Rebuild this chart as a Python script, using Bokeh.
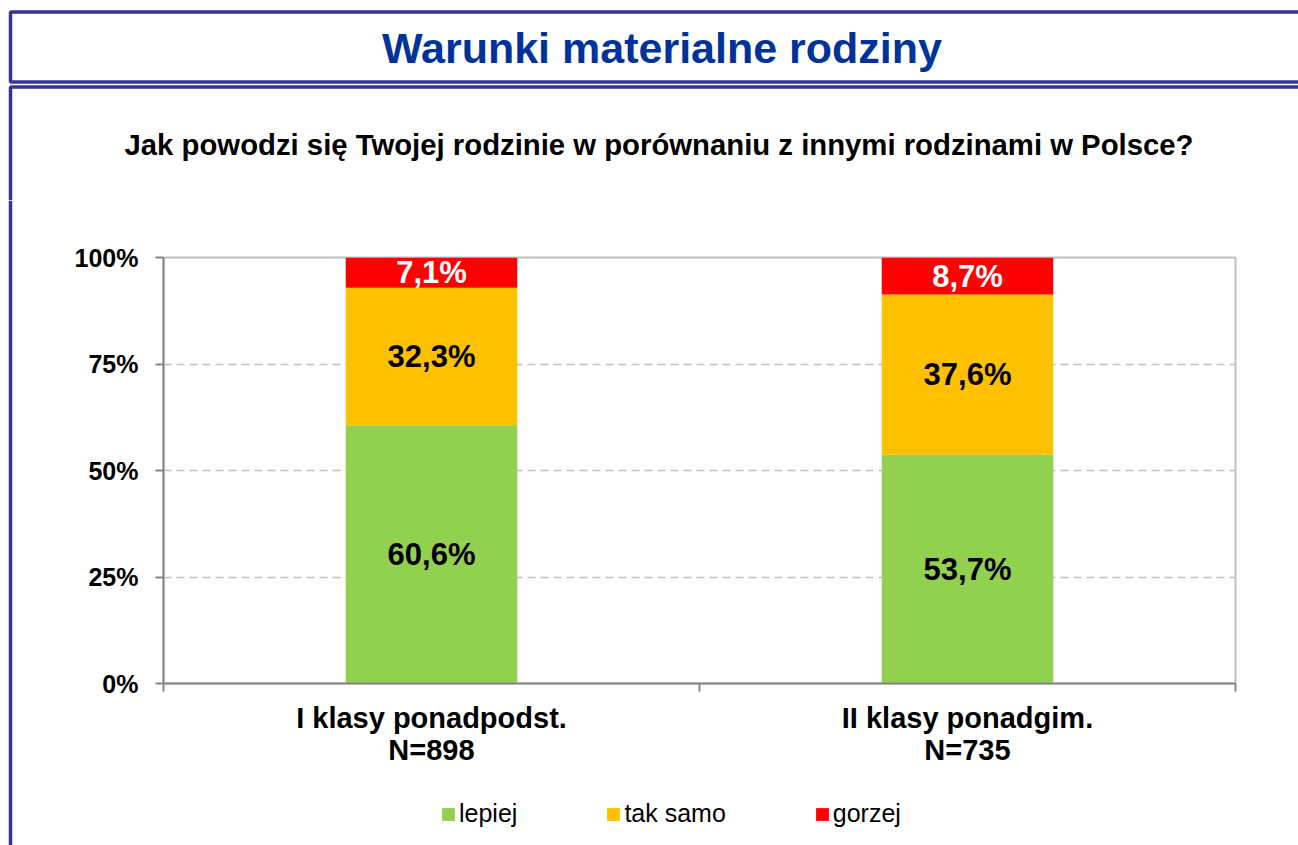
from bokeh.plotting import figure
from bokeh.layouts import column, row
from bokeh.models import (ColumnDataSource, FactorRange, Range1d, LinearAxis, CategoricalAxis,
                          FixedTicker, PrintfTickFormatter, Legend, LegendItem, BoxAnnotation,
                          Label, Grid, Span)
from bokeh.embed import file_html
from bokeh.resources import INLINE
from bokeh.core.properties import value

# ---------------- data ----------------
categories = ["I klasy ponadpodst.", "II klasy ponadgim."]
sample_sizes = ["N=898", "N=735"]
series_names = ["lepiej", "tak samo", "gorzej"]
lepiej = [60.6, 53.7]
tak_samo = [32.3, 37.6]
gorzej = [7.1, 8.7]
y_ticks = [0, 25, 50, 75, 100]
title_text = "Warunki materialne rodziny"
question_text = "Jak powodzi się Twojej rodzinie w porównaniu z innymi rodzinami w Polsce?"

# ---------------- style ----------------
FONT = "Liberation Sans"
colors = ["#92D050", "#FFC000", "#FF0000"]
label_colors = ["black", "black", "white"]
AXIS = "#868686"
GRID = "#C0C0C0"
BORDER = "#333399"
TITLE_COLOR = "#003399"

PAGE_W, PAGE_H = 1298, 845
HEADER_H = 200          # header figure: title box + question
STRIP_W = 20            # left strip carrying the panel's left border
LEGEND_H = 70
MAIN_H = PAGE_H - HEADER_H - LEGEND_H
MAIN_W = PAGE_W - STRIP_W


def bare(fig):
    fig.outline_line_color = None
    fig.background_fill_color = "white"
    fig.border_fill_color = "white"
    for g in fig.grid:
        g.visible = False
    return fig


# ---------------- header (pixel-like coordinates) ----------------
hdr = bare(figure(width=PAGE_W, height=HEADER_H, x_range=Range1d(0, PAGE_W), y_range=Range1d(HEADER_H, 0),
                  output_backend="svg", toolbar_location=None, x_axis_location=None, y_axis_location=None,
                  min_border=0, min_border_left=0, min_border_right=0, min_border_top=0,
                  min_border_bottom=0))
hdr.add_layout(BoxAnnotation(left=10, right=PAGE_W + 100, top=11.5, bottom=81.5, fill_color=None,
                             fill_alpha=0, line_color=BORDER, line_alpha=1, line_width=3.5))
hdr.add_layout(BoxAnnotation(left=10, right=PAGE_W + 100, top=86.5, bottom=HEADER_H + 100, fill_color=None,
                             fill_alpha=0, line_color=BORDER, line_alpha=1, line_width=3.5))
hdr.add_layout(Label(x=661.5, y=47, text=title_text, text_align="center", text_baseline="alphabetic",
                     text_font=FONT, text_font_size="43px", text_font_style="bold",
                     text_color=TITLE_COLOR))
hdr.add_layout(Label(x=658.5, y=144, text=question_text, text_align="center", text_baseline="alphabetic",
                     text_font=FONT, text_font_size="29.3px", text_font_style="bold", text_color="black"))

# ---------------- left strip ----------------
strip = bare(figure(width=STRIP_W, height=PAGE_H - HEADER_H, x_range=Range1d(0, STRIP_W),
                    y_range=Range1d(0, 1), output_backend="svg", toolbar_location=None,
                    x_axis_location=None, y_axis_location=None, min_border=0, min_border_left=0,
                    min_border_right=0, min_border_top=0, min_border_bottom=0))
strip.add_layout(Span(location=10, dimension="height", line_color=BORDER, line_alpha=1, line_width=3.5))

# ---------------- main chart ----------------
FRAME_L, FRAME_R, FRAME_T, FRAME_B = 163, 1235, 257, 683   # page px
p = figure(x_range=FactorRange(factors=categories, range_padding=0), y_range=Range1d(0, 100),
           width=MAIN_W, height=MAIN_H, output_backend="svg", toolbar_location=None,
           x_axis_location=None, y_axis_location=None,
           extra_x_ranges={"n": FactorRange(factors=sample_sizes, range_padding=0)},
           min_border_left=FRAME_L - STRIP_W, min_border_right=PAGE_W - FRAME_R,
           min_border_top=FRAME_T - HEADER_H, min_border_bottom=HEADER_H + MAIN_H - FRAME_B)
p.outline_line_color = GRID
p.outline_line_width = 2
p.background_fill_color = "white"
p.border_fill_color = "white"
for g in p.grid:
    g.visible = False

yaxis = LinearAxis(ticker=FixedTicker(ticks=y_ticks), formatter=PrintfTickFormatter(format="%d%%"),
                   axis_line_color=AXIS, axis_line_width=2,
                   major_tick_line_color=AXIS, major_tick_line_width=2,
                   major_tick_in=0, major_tick_out=8, minor_tick_line_color=None,
                   major_label_text_font=FONT, major_label_text_font_size="25px",
                   major_label_text_font_style="bold", major_label_text_color="black",
                   major_label_standoff=17)
p.add_layout(yaxis, "left")
p.add_layout(Grid(dimension=1, ticker=FixedTicker(ticks=y_ticks[1:]), grid_line_color=GRID,
                  grid_line_width=1.5, grid_line_dash="8 5"))

# x axis line with ticks at the category boundaries (synthetic coordinates 0, 1, 2)
bounds = list(range(len(categories) + 1))
bax = LinearAxis(ticker=FixedTicker(ticks=bounds),
                 major_label_overrides={i: "" for i in bounds},
                 major_label_standoff=0,
                 axis_line_color=AXIS, axis_line_width=2,
                 major_tick_line_color=AXIS, major_tick_line_width=2,
                 major_tick_in=0, major_tick_out=8, minor_tick_line_color=None)
p.add_layout(bax, "below")

cat_style = dict(axis_line_color=None, major_tick_line_color=None, major_tick_in=0, major_tick_out=0,
                 major_label_text_font=FONT, major_label_text_font_size="29px",
                 major_label_text_font_style="bold", major_label_text_color="black")
cax1 = CategoricalAxis(major_label_standoff=10, **cat_style)
cax2 = CategoricalAxis(x_range_name="n", major_label_standoff=-3, **cat_style)
p.add_layout(cax1, "below")
p.add_layout(cax2, "below")

data = dict(cat=categories, lepiej=lepiej, tak_samo=tak_samo, gorzej=gorzej)
source = ColumnDataSource(data)
keys = ["lepiej", "tak_samo", "gorzej"]
p.vbar_stack(keys, x="cat", width=0.32, color=colors, line_color=None, source=source)

bottom = [0.0] * len(categories)
for k, col in zip(keys, label_colors):
    vals = data[k]
    mids = [b + v / 2 for b, v in zip(bottom, vals)]
    txt = [f"{v:.1f}".replace(".", ",") + "%" for v in vals]
    src = ColumnDataSource(dict(cat=categories, y=mids, t=txt))
    p.text(x="cat", y="y", text="t", source=src, text_align="center", text_baseline="middle",
           text_font=value(FONT), text_font_size="31px", text_font_style="bold", text_color=col)
    bottom = [b + v for b, v in zip(bottom, vals)]

# ---------------- legend strip (frame aligned with the chart frame) ----------------
lg = bare(figure(x_range=FactorRange(factors=categories), y_range=Range1d(1000, 1001),
                 width=MAIN_W, height=LEGEND_H, output_backend="svg", toolbar_location=None,
                 x_axis_location=None, y_axis_location=None, min_border=0, min_border_left=0,
                 min_border_right=0, min_border_top=0, min_border_bottom=0))
legend_renderers = lg.vbar_stack(keys, x="cat", width=0.32, color=colors, line_color=None, source=source)
legend = Legend(items=[LegendItem(label=n, renderers=[r]) for n, r in zip(series_names, legend_renderers)],
                orientation="horizontal", location=(277, 17), margin=0, padding=0,
                border_line_color=None, background_fill_alpha=0,
                glyph_width=16, glyph_height=16, label_standoff=3, spacing=88,
                label_text_font=FONT, label_text_font_size="25px", label_text_color="black")
lg.add_layout(legend)

layout = column(hdr, row(strip, column(p, lg, spacing=0), spacing=0), spacing=0)

open("out.html", "w").write(file_html(layout, INLINE))
